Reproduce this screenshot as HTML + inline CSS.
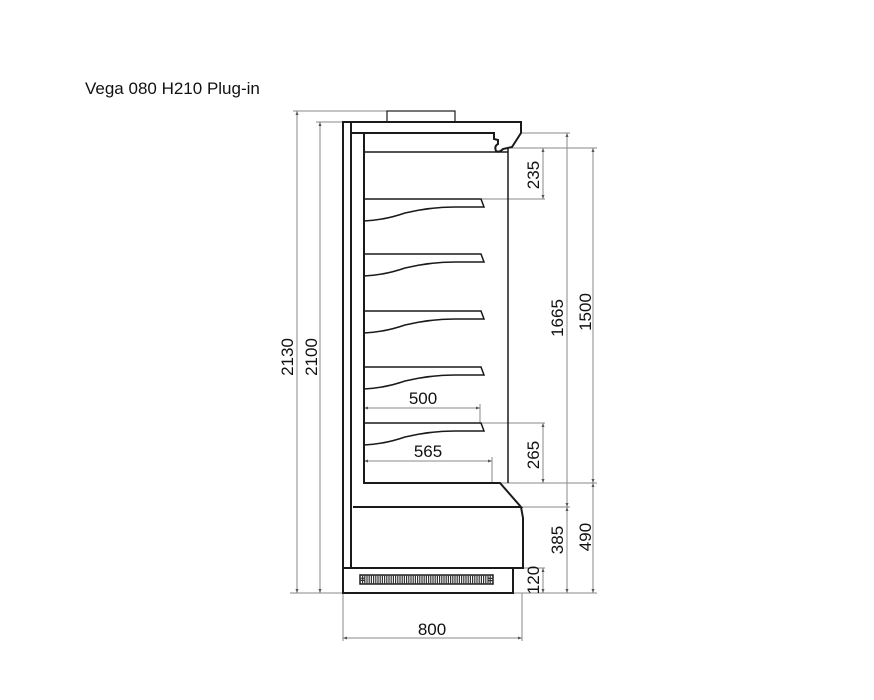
<!DOCTYPE html>
<html><head><meta charset="utf-8"><style>
html,body{margin:0;padding:0;background:#fff;}
svg{display:block;}
text{font-family:"Liberation Sans",sans-serif;fill:#111;}
</style></head><body>
<svg width="874" height="700" viewBox="0 0 874 700" xmlns="http://www.w3.org/2000/svg">
<text x="85" y="94" font-size="17">Vega 080 H210 Plug-in</text>
<g stroke="#8a8a8a" stroke-width="1" fill="none">
<line x1="293" y1="111" x2="387" y2="111"/>
<line x1="316" y1="122" x2="343" y2="122"/>
<line x1="297" y1="111" x2="297" y2="593"/>
<line x1="320" y1="122" x2="320" y2="593"/>
<line x1="290" y1="593" x2="597" y2="593"/>
<line x1="521" y1="133" x2="570" y2="133"/>
<line x1="508" y1="148" x2="597" y2="148"/>
<line x1="567" y1="133" x2="567" y2="593"/>
<line x1="593" y1="148" x2="593" y2="593"/>
<line x1="543" y1="148" x2="543" y2="199"/>
<line x1="480" y1="199" x2="545" y2="199"/>
<line x1="480" y1="423" x2="545" y2="423"/>
<line x1="543" y1="423" x2="543" y2="483"/>
<line x1="500" y1="483" x2="597" y2="483"/>
<line x1="521" y1="507" x2="570" y2="507"/>
<line x1="513" y1="568" x2="545" y2="568"/>
<line x1="543" y1="568" x2="543" y2="593"/>
<line x1="364" y1="408" x2="480" y2="408"/>
<line x1="480" y1="404" x2="480" y2="423"/>
<line x1="364" y1="461" x2="492" y2="461"/>
<line x1="492" y1="457" x2="492" y2="483"/>
<line x1="343" y1="593" x2="343" y2="641"/>
<line x1="522" y1="593" x2="522" y2="641"/>
<line x1="343" y1="638" x2="522" y2="638"/>
</g>
<g fill="#555" stroke="none">
<path d="M297,111 l-1.5,4 h3z M297,593 l-1.5,-4 h3z"/>
<path d="M320,122 l-1.5,4 h3z M320,593 l-1.5,-4 h3z"/>
<path d="M567,133 l-1.5,4 h3z M567,593 l-1.5,-4 h3z"/>
<path d="M593,148 l-1.5,4 h3z M593,593 l-1.5,-4 h3z"/>
<path d="M543,148 l-1.5,4 h3z M543,199 l-1.5,-4 h3z"/>
<path d="M543,423 l-1.5,4 h3z M543,483 l-1.5,-4 h3z"/>
<path d="M543,568 l-1.5,4 h3z M543,593 l-1.5,-4 h3z"/>
<path d="M364,408 l4,-1.5 v3z M480,408 l-4,-1.5 v3z"/>
<path d="M364,461 l4,-1.5 v3z M492,461 l-4,-1.5 v3z"/>
<path d="M343,638 l4,-1.5 v3z M522,638 l-4,-1.5 v3z"/>
<path d="M593,483 l-1.5,-4 h3z M593,483 l-1.5,4 h3z M567,507 l-1.5,-4 h3z M567,507 l-1.5,4 h3z"/>
</g>
<g stroke="#1a1a1a" stroke-width="2" fill="none" stroke-linejoin="miter">
<rect x="387" y="111" width="68" height="11" stroke-width="1.2"/>
<path d="M343,568 L343,122 L521,122 L521,133 L512,147 L503,149 Q499,153 496,151 Q494,146 498,144 L498,140 L494,139 L494,133 L351,133"/>
<line x1="351" y1="122" x2="351" y2="568"/>
<line x1="508" y1="148" x2="508" y2="483" stroke-width="1.5"/>
<path d="M364,152 L508,152" stroke-width="1.5"/>
<path d="M364,133 L364,483 L500,483 L521,507 L353,507"/>
<path d="M521,507 L523,518 L523,568 L343,568"/>
<rect x="343" y="568" width="170" height="25"/>
</g>
<rect x="360" y="575" width="133" height="9" fill="#fff" stroke="#1a1a1a" stroke-width="1.5"/>
<rect x="362" y="577" width="129" height="5" fill="none" stroke="#333" stroke-width="5" stroke-dasharray="1.2 1"/>
<g stroke="#1a1a1a" stroke-width="1.5" fill="none">
<path id="s" d="M364,199 L481,199 L484,207 L455,207 Q430,207 405,213 Q385,220 364,221"/>
<use href="#s" y="55"/>
<use href="#s" y="112"/>
<use href="#s" y="168"/>
<use href="#s" y="224"/>
</g>
<g font-size="17">
<text x="423" y="404" text-anchor="middle">500</text>
<text x="428" y="457" text-anchor="middle">565</text>
<text x="432" y="635" text-anchor="middle">800</text>
<text transform="translate(293,357) rotate(-90)" text-anchor="middle">2130</text>
<text transform="translate(317,357) rotate(-90)" text-anchor="middle">2100</text>
<text transform="translate(539,175) rotate(-90)" text-anchor="middle">235</text>
<text transform="translate(563,318) rotate(-90)" text-anchor="middle">1665</text>
<text transform="translate(591,312) rotate(-90)" text-anchor="middle">1500</text>
<text transform="translate(539,455) rotate(-90)" text-anchor="middle">265</text>
<text transform="translate(563,540) rotate(-90)" text-anchor="middle">385</text>
<text transform="translate(591,537) rotate(-90)" text-anchor="middle">490</text>
<text transform="translate(539,580) rotate(-90)" text-anchor="middle">120</text>
</g>
</svg>
</body></html>
